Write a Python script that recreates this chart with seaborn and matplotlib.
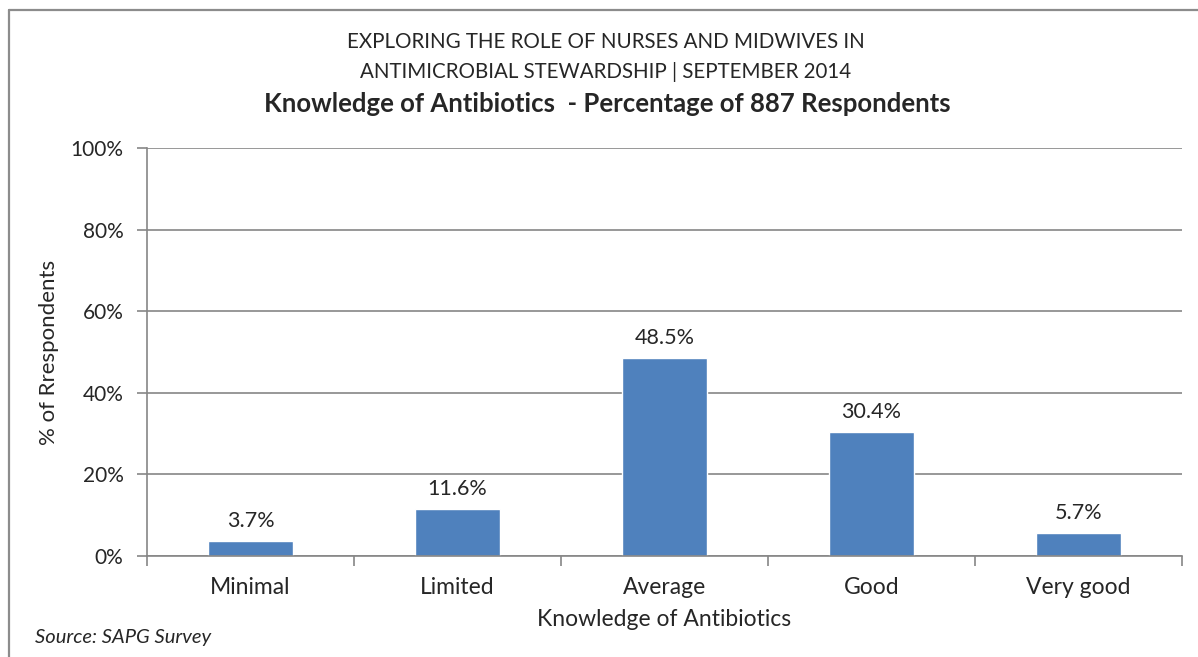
import matplotlib
matplotlib.use("Agg")
import matplotlib.pyplot as plt
from matplotlib.lines import Line2D
from matplotlib.ticker import FixedLocator, PercentFormatter
import seaborn as sns

categories = ['Minimal', 'Limited', 'Average', 'Good', 'Very good']
percent = [3.7, 11.6, 48.5, 30.4, 5.7]
title_lines = ['EXPLORING THE ROLE OF NURSES AND MIDWIVES IN',
               'ANTIMICROBIAL STEWARDSHIP | SEPTEMBER 2014']
subtitle = 'Knowledge of Antibiotics  - Percentage of 887 Respondents'

sns.set_style('white')
plt.rcParams['font.family'] = ['Lato', 'DejaVu Sans']

bar_color = '#4F81BD'
grey = '#868686'

fig = plt.figure(figsize=(11.98, 6.57), dpi=100)
ax = fig.add_axes([147 / 1198, 1 - 556 / 657, (1182 - 147) / 1198, (556 - 148) / 657])

sns.barplot(x=categories, y=percent, color=bar_color, width=0.41, ax=ax,
            saturation=1, errorbar=None)

ax.set_xlim(-0.5, len(categories) - 0.5)
ax.set_ylim(0, 100)
ax.set_yticks(range(0, 101, 20))
ax.yaxis.set_major_formatter(PercentFormatter(decimals=0))
ax.grid(axis='y', color=grey, linewidth=1.2)
ax.set_axisbelow(True)

for s in ['top', 'right']:
    ax.spines[s].set_visible(False)
for s in ['left', 'bottom']:
    ax.spines[s].set_color(grey)
    ax.spines[s].set_linewidth(1.2)

ax.tick_params(axis='y', length=7, color=grey, width=1.2, labelsize=15, pad=10, left=True)
ax.tick_params(axis='x', which='major', length=0, labelsize=16.5, pad=15)
ax.xaxis.set_minor_locator(FixedLocator([i - 0.5 for i in range(len(categories) + 1)]))
ax.tick_params(axis='x', which='minor', length=7, color=grey, width=1.2, bottom=True)

for c in ax.containers:
    ax.bar_label(c, fmt='%.1f%%', padding=7, fontsize=15.5)

ax.set_xlabel('Knowledge of Antibiotics', fontsize=16.5, labelpad=8)
ax.set_ylabel('% of Rrespondents', fontsize=16, labelpad=8)

fig.text(606 / 1198, 1 - 42 / 657, title_lines[0], ha='center', va='center', fontsize=14.8)
fig.text(606 / 1198, 1 - 72 / 657, title_lines[1], ha='center', va='center', fontsize=14.8)
fig.text(607 / 1198, 1 - 104 / 657, subtitle, ha='center', va='center',
         fontsize=18.5, fontweight='bold')
fig.text(35 / 1198, 1 - 637 / 657, 'Source: SAPG Survey', ha='left', va='center',
         fontsize=14.5, style='italic')

# outer chart border (top and left edges visible)
fig.add_artist(Line2D([8.5 / 1198, 8.5 / 1198], [0, 1 - 10 / 657],
                      transform=fig.transFigure, color='#8c8c8c', lw=1.6))
fig.add_artist(Line2D([8.5 / 1198, 1], [1 - 10 / 657, 1 - 10 / 657],
                      transform=fig.transFigure, color='#8c8c8c', lw=1.6))

fig.savefig('out.png', dpi=100)
